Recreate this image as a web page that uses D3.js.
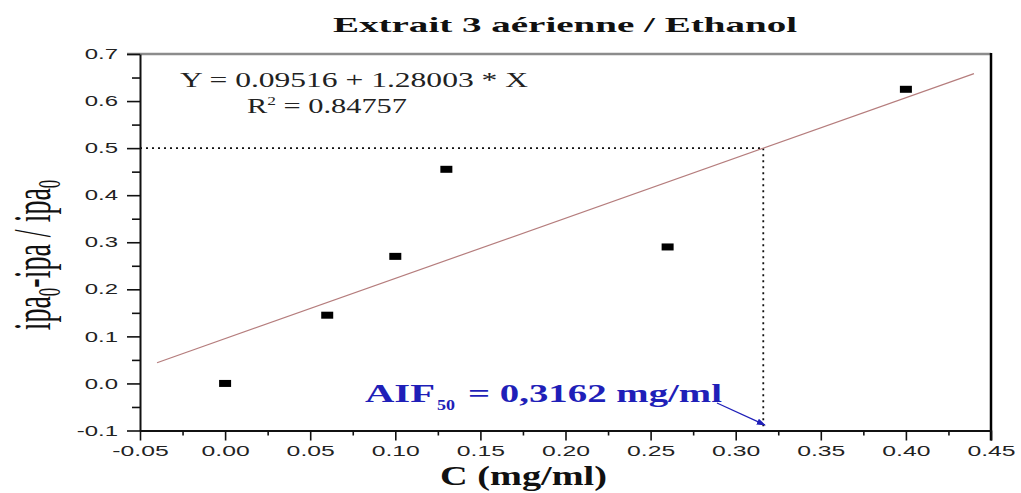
<!DOCTYPE html>
<html>
<head>
<meta charset="utf-8">
<script src="https://cdn.jsdelivr.net/npm/d3@7"></script>
<style>
  html, body { margin: 0; padding: 0; background: #fff; }
  svg { display: block; }
</style>
</head>
<body>
<svg id="chart" width="1021" height="493"></svg>
<script>
// ---- data ----
const concentrations = [0.00, 0.06, 0.10, 0.13, 0.26, 0.40];
const inhibition     = [0.00, 0.145, 0.27, 0.455, 0.29, 0.625];
const fitIntercept = 0.09516;
const fitSlope = 1.28003;
const fitXRange = [-0.04, 0.44];
const halfLevel = 0.5;
const aif50 = 0.3162;
const xMajorTicks = [-0.05, 0.00, 0.05, 0.10, 0.15, 0.20, 0.25, 0.30, 0.35, 0.40, 0.45];
const xMinorTicks = [-0.025, 0.025, 0.075, 0.125, 0.175, 0.225, 0.275, 0.325, 0.375, 0.425];
const yMajorTicks = [-0.1, 0.0, 0.1, 0.2, 0.3, 0.4, 0.5, 0.6, 0.7];
const yMinorTicks = [-0.05, 0.05, 0.15, 0.25, 0.35, 0.45, 0.55, 0.65];
const titleText = "Extrait 3 aérienne / Ethanol";
const equationText = "Y = 0.09516 + 1.28003 * X";
const r2Value = "0.84757";
const xLabelText = "C (mg/ml)";

// ---- layout ----
const svg = d3.select("#chart");
const L = 140, R = 991, T = 54, B = 430.5;
const serif = "'Liberation Serif','Times New Roman',serif";
const sans = "'Liberation Sans',Arial,sans-serif";
const stretch = 1.65;
const hyphenMinus = s => s.replace("\u2212", "-");

const x = d3.scaleLinear().domain([-0.05, 0.45]).range([L, R]);
const y = d3.scaleLinear().domain([-0.1, 0.7]).range([B, T]);

// title
svg.append("text")
  .attr("x", 565).attr("y", 32)
  .attr("text-anchor", "middle")
  .attr("font-family", serif).attr("font-weight", "bold").attr("font-size", 22)
  .attr("textLength", 464).attr("lengthAdjust", "spacingAndGlyphs")
  .attr("fill", "#111")
  .text(titleText);

// top border (gray) and right border (black)
svg.append("line").attr("x1", L - 13).attr("x2", R).attr("y1", T).attr("y2", T)
  .attr("stroke", "#8c8c8c").attr("stroke-width", 2.5);
svg.append("line").attr("x1", R).attr("x2", R).attr("y1", T - 1).attr("y2", B + 10)
  .attr("stroke", "#000").attr("stroke-width", 2.5);

// x axis major
const fx = d3.format(".2f");
const gx = svg.append("g").attr("transform", `translate(0,${B})`)
  .call(d3.axisBottom(x).tickValues(xMajorTicks).tickFormat(d => hyphenMinus(fx(d)))
    .tickSize(10).tickSizeOuter(0).tickPadding(5));
gx.select(".domain").attr("stroke", "#111").attr("stroke-width", 2);
gx.selectAll(".tick line").attr("stroke", "#111").attr("stroke-width", 1.6);
gx.selectAll(".tick text")
  .attr("font-family", sans).attr("font-size", 15).attr("fill", "#222")
  .attr("transform", `scale(${stretch},1)`);
// x minor
const gxm = svg.append("g").attr("transform", `translate(0,${B})`)
  .call(d3.axisBottom(x).tickValues(xMinorTicks).tickFormat("").tickSize(5).tickSizeOuter(0));
gxm.select(".domain").remove();
gxm.selectAll(".tick line").attr("stroke", "#111").attr("stroke-width", 1.6);

// y axis major
const fy = d3.format(".1f");
const gy = svg.append("g").attr("transform", `translate(${L},0)`)
  .call(d3.axisLeft(y).tickValues(yMajorTicks).tickFormat(d => hyphenMinus(fy(d)))
    .tickSize(13).tickSizeOuter(0).tickPadding(9));
gy.select(".domain").attr("stroke", "#111").attr("stroke-width", 2);
gy.selectAll(".tick line").attr("stroke", "#111").attr("stroke-width", 1.6);
gy.selectAll(".tick text")
  .attr("font-family", sans).attr("font-size", 14.5).attr("fill", "#222")
  .attr("x", -22 / stretch)
  .attr("transform", `scale(${stretch},1)`);
// y minor
const gym = svg.append("g").attr("transform", `translate(${L},0)`)
  .call(d3.axisLeft(y).tickValues(yMinorTicks).tickFormat("").tickSize(8).tickSizeOuter(0));
gym.select(".domain").remove();
gym.selectAll(".tick line").attr("stroke", "#111").attr("stroke-width", 1.6);

// dotted guides
svg.append("line")
  .attr("x1", x(-0.05)).attr("x2", x(aif50))
  .attr("y1", y(halfLevel)).attr("y2", y(halfLevel))
  .attr("stroke", "#111").attr("stroke-width", 1.8).attr("stroke-dasharray", "2,4");
svg.append("line")
  .attr("x1", x(aif50)).attr("x2", x(aif50))
  .attr("y1", y(halfLevel)).attr("y2", y(-0.1))
  .attr("stroke", "#111").attr("stroke-width", 1.8).attr("stroke-dasharray", "2,4");

// fit line
const fitLine = d3.line().x(d => x(d)).y(d => y(fitIntercept + fitSlope * d));
svg.append("path").datum(fitXRange)
  .attr("d", fitLine)
  .attr("fill", "none").attr("stroke", "#b57d7d").attr("stroke-width", 1.2);

// points
const pts = concentrations.map((c, i) => ({ c, v: inhibition[i] }));
svg.append("g").selectAll("rect").data(pts).join("rect")
  .attr("x", d => x(d.c) - 6).attr("y", d => y(d.v) - 3.5)
  .attr("width", 12).attr("height", 7)
  .attr("fill", "#000");

// equation
svg.append("text")
  .attr("x", 180).attr("y", 87)
  .attr("font-family", serif).attr("font-size", 21).attr("fill", "#222")
  .attr("textLength", 348).attr("lengthAdjust", "spacingAndGlyphs")
  .text(equationText);
const r2 = svg.append("text")
  .attr("x", 247).attr("y", 113)
  .attr("font-family", serif).attr("font-size", 21).attr("fill", "#222");
r2.append("tspan").text("R");
r2.append("tspan").attr("font-size", 12).attr("dy", -8).text("2");
r2.append("tspan").attr("dy", 8).text(" = " + r2Value);
r2.attr("textLength", 160).attr("lengthAdjust", "spacingAndGlyphs");

// y label
const yl = svg.append("text")
  .attr("transform", `translate(50,255) scale(1.9,1) rotate(-90)`)
  .attr("text-anchor", "middle")
  .attr("font-family", serif).attr("font-size", 28).attr("fill", "#111");
yl.append("tspan").text("ipa");
yl.append("tspan").attr("font-size", 17).attr("dy", 5).text("0");
yl.append("tspan").attr("dy", -5).text("-ipa / ipa");
yl.append("tspan").attr("font-size", 17).attr("dy", 5).text("0");

// x label
svg.append("text")
  .attr("x", 523.5).attr("y", 485)
  .attr("text-anchor", "middle")
  .attr("font-family", serif).attr("font-weight", "bold").attr("font-size", 27)
  .attr("textLength", 167).attr("lengthAdjust", "spacingAndGlyphs")
  .attr("fill", "#111")
  .text(xLabelText);

// AIF50 annotation
const blue = "#1f1fb8";
svg.append("text").attr("x", 365).attr("y", 401.5)
  .attr("font-family", serif).attr("font-weight", "bold").attr("font-size", 25)
  .attr("fill", blue).attr("textLength", 70).attr("lengthAdjust", "spacingAndGlyphs")
  .text("AIF");
svg.append("text").attr("x", 437).attr("y", 410)
  .attr("font-family", serif).attr("font-weight", "bold").attr("font-size", 15)
  .attr("fill", blue).attr("textLength", 18).attr("lengthAdjust", "spacingAndGlyphs")
  .text("50");
svg.append("text").attr("x", 468).attr("y", 401.5)
  .attr("font-family", serif).attr("font-weight", "bold").attr("font-size", 25)
  .attr("fill", blue).attr("textLength", 254).attr("lengthAdjust", "spacingAndGlyphs")
  .text("= " + String(aif50).replace(".", ",") + " mg/ml");

// arrow
svg.append("defs").append("marker")
  .attr("id", "arr").attr("viewBox", "0 0 10 10").attr("refX", 9).attr("refY", 5)
  .attr("markerWidth", 7).attr("markerHeight", 7).attr("orient", "auto")
  .append("path").attr("d", "M0,1.5 L10,5 L0,8.5 Z").attr("fill", blue);
svg.append("line")
  .attr("x1", 717).attr("y1", 403).attr("x2", 765).attr("y2", 425)
  .attr("stroke", blue).attr("stroke-width", 1.3).attr("marker-end", "url(#arr)");
</script>
</body>
</html>
